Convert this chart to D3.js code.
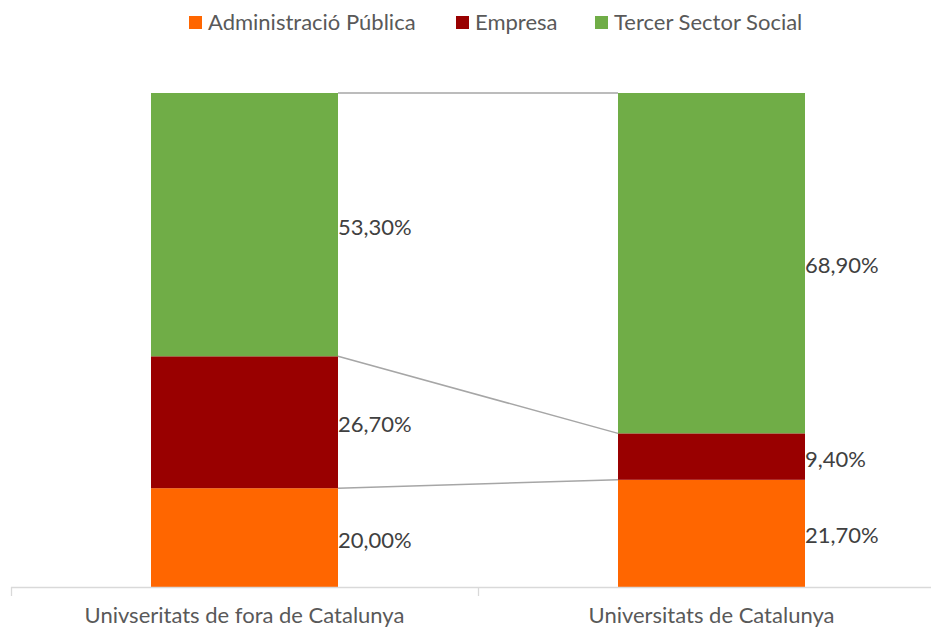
<!DOCTYPE html>
<html><head><meta charset="utf-8">
<script src="https://cdn.jsdelivr.net/npm/d3@7"></script>
<style>body{margin:0;background:#fff}svg{display:block}text{font-family:Lato,"Open Sans",sans-serif}</style>
</head><body><svg id="c" width="931" height="629"></svg>
<script>
const categories = ["Univseritats de fora de Catalunya", "Universitats de Catalunya"];
const seriesNames = ["Administració Pública", "Empresa", "Tercer Sector Social"];
const administracio = [20.0, 21.7];
const empresa = [26.7, 9.4];
const tercer = [53.3, 68.9];
const colors = ["#ff6600", "#990000", "#70ad47"];

const svg = d3.select("#c");
const margin = {left: 11, right: -14, top: 93, bottom: 42};
const W = 931, H = 629;
const x = d3.scaleBand().domain(categories).range([margin.left, W - margin.right]).paddingInner(0).paddingOuter(0);
const barW = 187;
const y = d3.scaleLinear().domain([0, 100]).range([H - margin.bottom, margin.top]);

const table = categories.map((c, i) => ({cat: c, a: administracio[i], e: empresa[i], t: tercer[i]}));
const stack = d3.stack().keys(["a", "e", "t"])(table);

const bx = c => x(c) + x.bandwidth() / 2 - barW / 2;

// series lines
const g = svg.append("g");
stack.forEach((s) => {
  const p0 = s[0], p1 = s[1];
  g.append("line")
    .attr("x1", bx(categories[0]) + barW).attr("y1", y(p0[1]))
    .attr("x2", bx(categories[1])).attr("y2", y(p1[1]))
    .attr("stroke", "#a6a6a6").attr("stroke-width", 1.5);
});

// bars
stack.forEach((s, si) => {
  g.selectAll(null).data(s).enter().append("rect")
    .attr("x", d => bx(d.data.cat))
    .attr("width", barW)
    .attr("y", d => y(d[1]))
    .attr("height", d => y(d[0]) - y(d[1]))
    .attr("fill", colors[si]);
});

// labels
const fmt = v => v.toFixed(2).replace(".", ",") + "%";
stack.forEach((s, si) => {
  g.selectAll(null).data(s).enter().append("text")
    .attr("x", d => bx(d.data.cat) + barW)
    .attr("y", d => (y(d[0]) + y(d[1])) / 2 + 2)
    .attr("dy", "0.36em")
    .attr("font-size", 22)
    .attr("fill", "#404040")
    .text(d => fmt(d[1] - d[0]));
});

// axis
const axisY = y(0);
const ag = svg.append("g").attr("transform", `translate(0,${axisY})`);
ag.append("line").attr("x1", margin.left).attr("x2", W).attr("y1", 0.5).attr("y2", 0.5).attr("stroke", "#d9d9d9").attr("stroke-width", 1.3);
const bounds = [x.range()[0], x.range()[0] + x.bandwidth(), x.range()[1]];
ag.selectAll(null).data(bounds).enter().append("line")
  .attr("x1", d => d + 0.5).attr("x2", d => d + 0.5).attr("y1", 0).attr("y2", 9)
  .attr("stroke", "#d9d9d9").attr("stroke-width", 1.3);
ag.selectAll(null).data(categories).enter().append("text")
  .attr("x", d => x(d) + x.bandwidth() / 2)
  .attr("y", 36)
  .attr("text-anchor", "middle")
  .attr("font-size", 22)
  .attr("fill", "#595959")
  .text(d => d);

// legend
const legendX = [189, 456, 595];
const lg = svg.append("g");
seriesNames.forEach((n, i) => {
  lg.append("rect").attr("x", legendX[i]).attr("y", 16).attr("width", 13).attr("height", 13).attr("fill", colors[i]);
  lg.append("text").attr("x", legendX[i] + 19).attr("y", 22.5).attr("dy", "0.36em")
    .attr("font-size", 22).attr("fill", "#595959").text(n);
});
</script></body></html>
